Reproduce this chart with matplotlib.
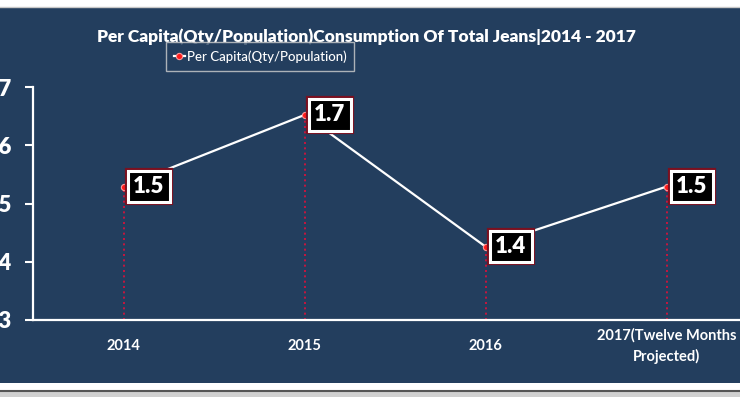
import matplotlib
matplotlib.use("Agg")
import matplotlib.pyplot as plt
from matplotlib.patches import Rectangle
from matplotlib.lines import Line2D
import matplotlib.patheffects as pe

categories = ["2014", "2015", "2016", "2017(Twelve Months\nProjected)"]
values = [1.529, 1.652, 1.426, 1.529]
labels = ["1.5", "1.7", "1.4", "1.5"]
yticks = [1.3, 1.4, 1.5, 1.6, 1.7]
title = "Per Capita(Qty/Population)Consumption Of Total Jeans|2014 - 2017"
series_name = "Per Capita(Qty/Population)"

FONT = ["Lato", "DejaVu Sans"]
plt.rcParams["font.family"] = FONT

W, H = 740, 397
NAVY = "#233E5E"
fig = plt.figure(figsize=(W / 100, H / 100), dpi=100)
fig.patch.set_facecolor("white")

fig.patches.append(Rectangle((0, 1 - 383 / H), 1, (383 - 8) / H, transform=fig.transFigure,
                             facecolor=NAVY, edgecolor="none", zorder=-2))
fig.add_artist(Line2D([0, 1], [1 - 7 / H, 1 - 7 / H], transform=fig.transFigure, color="#C8C8C8", lw=1))
fig.add_artist(Line2D([0, 1], [1 - 391 / H, 1 - 391 / H], transform=fig.transFigure, color="#555555", lw=1.5))
fig.patches.append(Rectangle((0, 0), 1, 1 - 392 / H, transform=fig.transFigure,
                             facecolor="#D0D0D0", edgecolor="none", zorder=-2))

ax = fig.add_axes([33 / W, 1 - 320 / H, 724 / W, 233 / H])
ax.set_zorder(2)
ax.set_facecolor("none")
x = list(range(len(categories)))
ax.set_xlim(-0.5, len(categories) - 0.5)
ax.set_ylim(1.3, 1.7)

ax.vlines(x, 1.3, values, colors="#E0103A", linestyles=(0, (1.2, 2)), lw=1.2, zorder=2)
line, = ax.plot(x, values, color="white", lw=1.6, marker="o", ms=4.5,
                mfc="#FF1A1A", mec="#FF9A9A", mew=0.8, zorder=3, label=series_name)

for xi, yi, lab in zip(x, values, labels):
    t = ax.annotate(lab, (xi, yi), xytext=(7, 0), textcoords="offset points",
                    ha="left", va="center", color="white", fontsize=16, fontweight="heavy",
                    bbox=dict(boxstyle="square,pad=0.24", fc="black", ec="white", lw=2.2),
                    zorder=5)
    t.get_bbox_patch().set_path_effects([pe.withStroke(linewidth=4.5, foreground="#7A1020")])

ax.set_yticks(yticks)
ax.set_yticklabels([f"{v:.1f}" for v in yticks])
ax.set_xticks(x)
ax.set_xticklabels(categories)
ax.tick_params(axis="y", colors="white", length=6, width=1.5, pad=9, labelsize=16)
ax.tick_params(axis="x", colors="white", length=0, pad=19, labelsize=10.5)
for lab in ax.get_yticklabels():
    lab.set_fontweight("heavy")
for lab in ax.get_xticklabels():
    lab.set_fontweight("bold")
    lab.set_multialignment("center")
    lab.set_verticalalignment("center")
    lab.set_linespacing(1.55)
for s in ["top", "right"]:
    ax.spines[s].set_visible(False)
for s in ["left", "bottom"]:
    ax.spines[s].set_color("white")
    ax.spines[s].set_linewidth(1.6)

fig.text(366 / W, 1 - 37 / H, title, ha="center", va="center", color="white",
         fontsize=12.5, fontweight="heavy")

leg = fig.legend(handles=[line], loc="center", bbox_to_anchor=(260 / W, 1 - 56.5 / H),
                 frameon=True, fancybox=False, handlelength=0.9,
                 handletextpad=0.1, borderpad=0.6, labelcolor="white",
                 prop={"size": 9.5, "weight": "medium"})
leg.get_frame().set_facecolor(NAVY)
leg.get_frame().set_edgecolor("#D0D0D0")
leg.get_frame().set_linewidth(1)

fig.savefig("out.png", dpi=100, facecolor=fig.get_facecolor())
